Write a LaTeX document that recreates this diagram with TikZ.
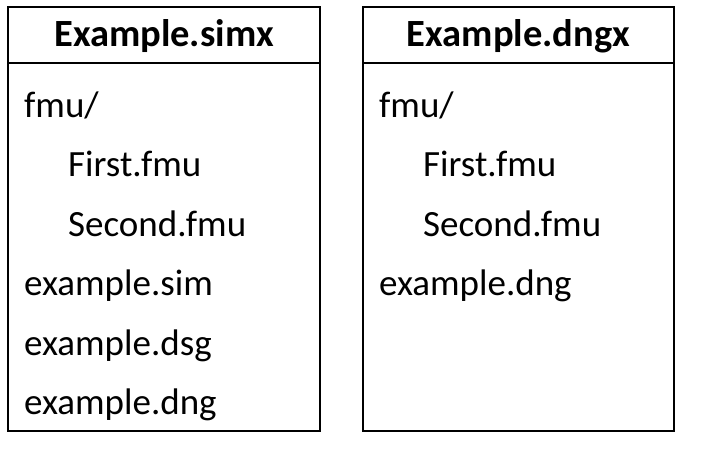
\documentclass[tikz,border=0pt]{standalone}
\usepackage{fontspec}
\setmainfont{Carlito}
\usetikzlibrary{positioning}

\begin{document}
\begin{tikzpicture}[x=1pt,y=-1pt,
  archbox/.style={draw, line width=2pt},
  entry/.style={anchor=base west, inner sep=0pt, font=\fontsize{37}{40}\selectfont},
  title/.style={anchor=base, inner sep=0pt, font=\fontsize{38.5}{40}\selectfont\bfseries}]
\useasboundingbox (0,0) rectangle (718,448);
% left archive
\draw[archbox] (8,7) rectangle (320,431);
\draw[archbox] (8,63) -- (320,63);
\node[title] (simx) at (164,46) {Example.simx};
\node[entry] (s1) at (24,117) {fmu/};
\node[entry] (s2) at (68,176.5) {First.fmu};
\node[entry] (s3) at (68,236) {Second.fmu};
\node[entry] (s4) at (24,295.5) {example.sim};
\node[entry] (s5) at (24,355) {example.dsg};
\node[entry] (s6) at (24,414.5) {example.dng};
% right archive
\draw[archbox] (363,7) rectangle (674,431);
\draw[archbox] (363,63) -- (674,63);
\node[title] (dngx) at (518.5,46) {Example.dngx};
\node[entry] (d1) at (379,117) {fmu/};
\node[entry] (d2) at (423,176.5) {First.fmu};
\node[entry] (d3) at (423,236) {Second.fmu};
\node[entry] (d4) at (379,295.5) {example.dng};
\end{tikzpicture}
\end{document}
